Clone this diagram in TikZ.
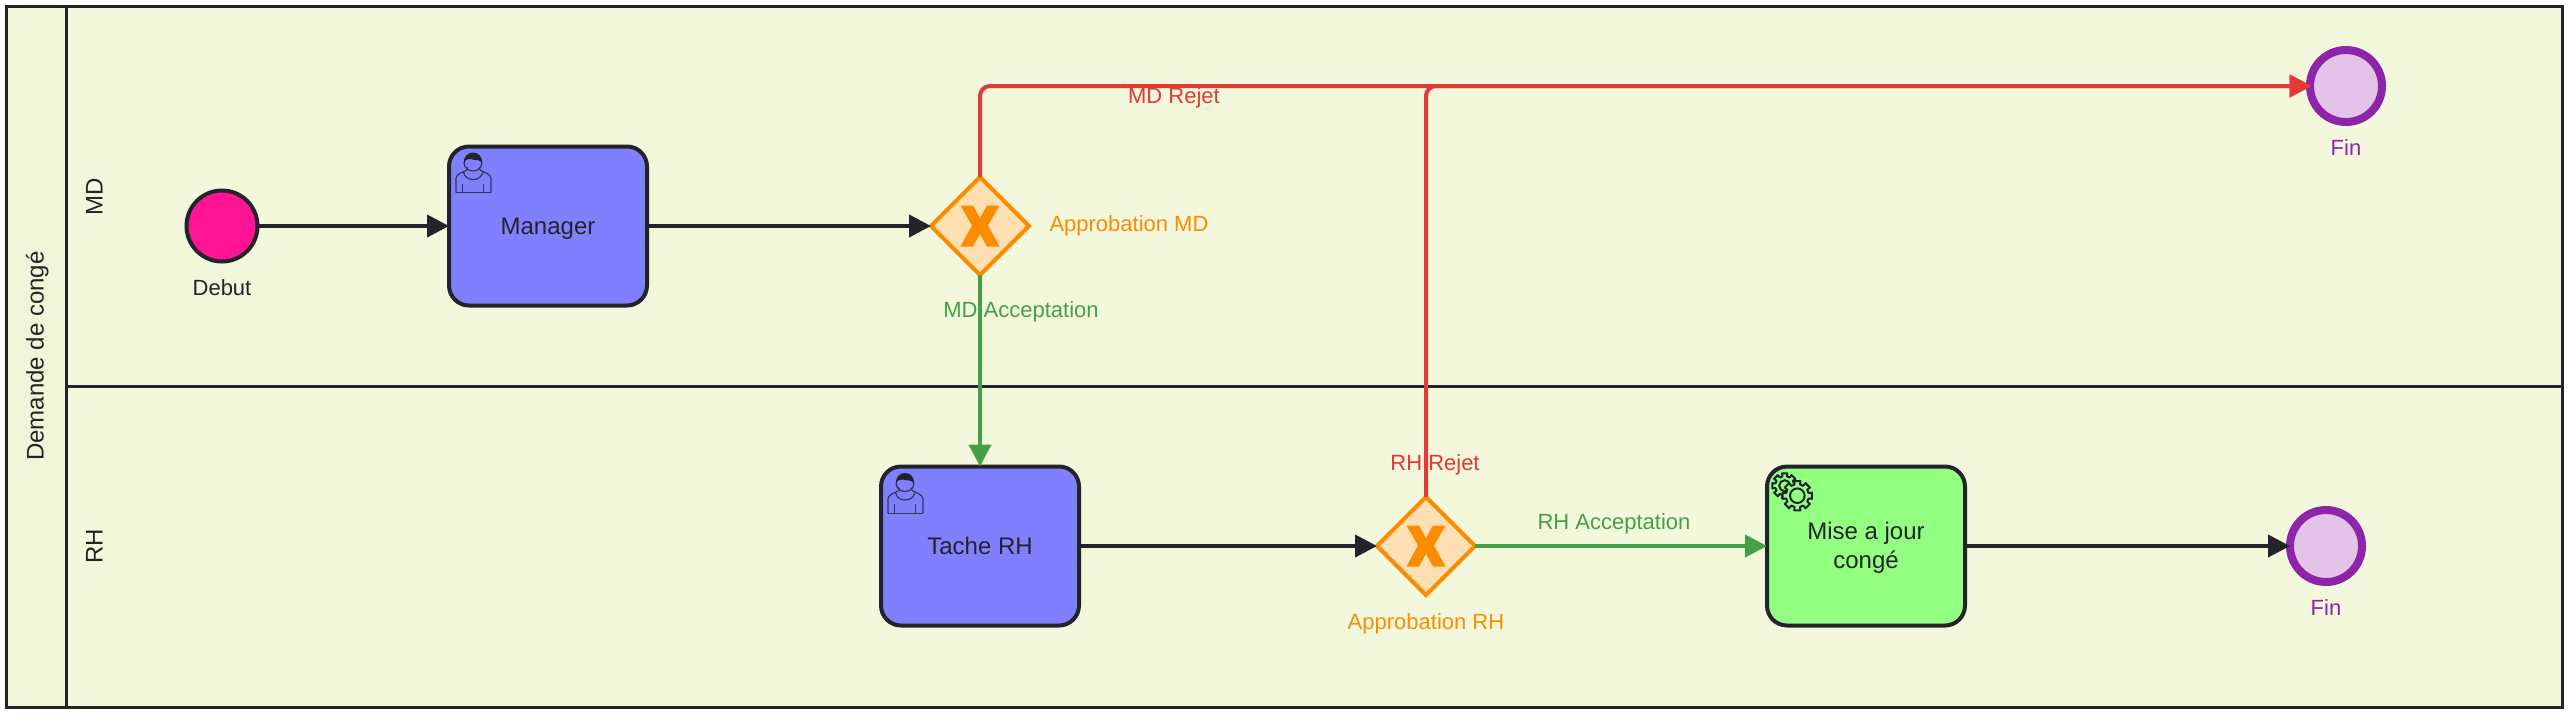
\documentclass[tikz,border=0pt]{standalone}
\usepackage{fontspec}
\setmainfont{Liberation Sans}
\usetikzlibrary{arrows.meta,shapes.geometric}
\definecolor{ink}{HTML}{22242A}
\definecolor{lanefill}{HTML}{F3F7DC}
\definecolor{headfill}{HTML}{F0F5D8}
\definecolor{taskblue}{HTML}{8080FF}
\definecolor{taskgreen}{HTML}{92FF80}
\definecolor{startpink}{HTML}{FF1493}
\definecolor{gatefill}{HTML}{FFE0B2}
\definecolor{gateline}{HTML}{FB8C00}
\definecolor{endline}{HTML}{8E24AA}
\definecolor{endfill}{HTML}{E3C3E8}
\definecolor{redline}{HTML}{E53935}
\definecolor{greenline}{HTML}{43A047}
\newcommand{\gatemark}[1]{%
  \fill[gateline,shift={(#1)}] (-19.5,-20.5) -- (-7,-20.5) -- (0,-8) -- (7,-20.5) -- (19.5,-20.5) -- (8,-0.5) -- (19.5,20.5) -- (7,20.5) -- (0,8) -- (-7,20.5) -- (-19.5,20.5) -- (-8,-0.5) -- cycle;}
\newcommand{\usermark}[1]{%
  \begin{scope}[shift={(#1)},draw=ink!80!taskblue,line width=.6pt,line join=round]
    \draw (9,48.7) -- (9,34.3) .. controls (9,30.5) and (15,28.5) .. (20,26) .. controls (21,24.5) and (20,23.5) .. (19.5,23);
    \draw (44,48.7) -- (44,34.3) .. controls (44,30.5) and (38,28.5) .. (33,26) .. controls (32,24.5) and (33,23.5) .. (33.5,23);
    \draw (9,48.7) -- (44,48.7);
    \draw (16.5,28) .. controls (18,38) and (34,38) .. (36,28);
    \draw (15.7,39.5) -- (15.7,48.7) (36.7,39.5) -- (36.7,48.7);
    \draw (17,18) .. controls (17,30) and (35,30) .. (35,18);
    \fill[ink] (17,19) .. controls (16,5) and (36,5) .. (35,19) .. controls (31,14) and (28,17) .. (24,15) .. controls (21,15) and (19,15) .. (17,19) -- cycle;
  \end{scope}}
\newcommand{\gearmark}[4]{% centre, outer radius, root radius, hole radius
  \filldraw[shift={(#1)},draw=ink,fill=taskgreen,line width=1pt,line join=round]
    (-12:#2) \foreach \k in {0,...,7}{ -- ({\k*45-12}:#2) -- ({\k*45+12}:#2) -- ({\k*45+14}:#3) -- ({\k*45+31}:#3)} -- cycle;
  \draw[shift={(#1)},ink,line width=1pt] (0,0) circle (#4);}
\tikzset{
  x=0.5pt,y=-0.5pt,
  lane/.style={draw=ink,line width=1.5pt},
  taskbox/.style={rectangle,draw=ink,line width=2pt,rounded corners=10pt,minimum width=99pt,minimum height=79.5pt,inner sep=0pt,outer sep=0pt,text=ink,font=\fontsize{12}{14.5}\selectfont,align=center},
  startev/.style={circle,draw=ink,line width=2pt,fill=startpink,minimum size=35.5pt,inner sep=0pt,outer sep=0pt},
  endev/.style={circle,draw=endline,line width=4pt,fill=endfill,minimum size=36pt,inner sep=0pt,outer sep=0pt},
  gateway/.style={diamond,draw=gateline,line width=2pt,fill=gatefill,minimum width=49pt,minimum height=49pt,inner sep=0pt,outer sep=0pt,line join=miter},
  lbl/.style={font=\fontsize{11}{13}\selectfont,inner sep=0pt,text height=9.5pt,text depth=2pt},
  lanelbl/.style={font=\fontsize{12}{14}\selectfont,inner sep=0pt,text height=9.5pt,text depth=2pt,rotate=90,text=ink},
  flow/.style={line width=2pt,-{Triangle[length=11pt,width=11pt]},rounded corners=5pt},
  blackflow/.style={flow,draw=ink},
  redflow/.style={flow,draw=redline,shorten >=-0.8pt},
  greenflow/.style={flow,draw=greenline},
}
\begin{document}
\begin{tikzpicture}
\useasboundingbox (0,0) rectangle (2570,714);
\fill[white] (0,0) rectangle (2570,714);
% pool and lanes
\path[fill=lanefill] (6,6) rectangle (2562,707);
\path[fill=headfill] (6,6) rectangle (66,707);
\draw[lane] (6,6) rectangle (2562,707);
\draw[lane] (66,6) -- (66,707);
\draw[lane] (66,386) -- (2562,386);
\node[lanelbl] (pool) at (36,356) {Demande de congé};
\node[lanelbl] (laneMD) at (95,197) {MD};
\node[lanelbl] (laneRH) at (95,546) {RH};
% events
\node[startev] (start) at (222,226) {};
\node[endev] (endA) at (2346,86) {};
\node[endev] (endB) at (2326,546) {};
% tasks
\node[taskbox,fill=taskblue,text height=11.1pt,text depth=2.5pt] (manager) at (548,226) {Manager};
\node[taskbox,fill=taskblue,text height=11.1pt,text depth=2.5pt] (tacheRH) at (980,546) {Tache RH};
\node[taskbox,fill=taskgreen,text height=25.1pt] (maj) at (1866,546) {Mise a jour\\congé};
\usermark{447,144}
\usermark{879,464.5}
\gearmark{1784.7,485.7}{12.7}{9.5}{5.5}
\gearmark{1797.3,495.7}{15}{11.5}{7.3}
% gateways
\node[gateway] (gwMD) at (980,226) {};
\node[gateway] (gwRH) at (1426,546) {};
\gatemark{980,226}
\gatemark{1426,546}
% connectors
\draw[blackflow] (start.east) -- (manager.west);
\draw[blackflow] (manager.east) -- (gwMD.west);
\draw[blackflow] (tacheRH.east) -- (gwRH.west);
\draw[blackflow] (maj.east) -- (endB.west);
\draw[greenflow] (gwMD.south) -- (tacheRH.north);
\draw[greenflow] (gwRH.east) -- (maj.west);
\draw[redflow] (gwMD.north) |- (endA.west);
\draw[redflow] (gwRH.north) |- (endA.west);
% labels
\node[lbl,text=ink] (lblDebut) at (222,288) {Debut};
\node[lbl,text=endline] (lblFinA) at (2346,148) {Fin};
\node[lbl,text=endline] (lblFinB) at (2326,608) {Fin};
\node[lbl,text=gateline] (lblApMD) at (1129,224) {Approbation MD};
\node[lbl,text=gateline] (lblApRH) at (1426,622) {Approbation RH};
\node[lbl,text=redline] (lblRejMD) at (1174,96) {MD Rejet};
\node[lbl,text=redline] (lblRejRH) at (1435,463) {RH Rejet};
\node[lbl,text=greenline] (lblAcMD) at (1021,310) {MD Acceptation};
\node[lbl,text=greenline] (lblAcRH) at (1614,522) {RH Acceptation};
\end{tikzpicture}
\end{document}
